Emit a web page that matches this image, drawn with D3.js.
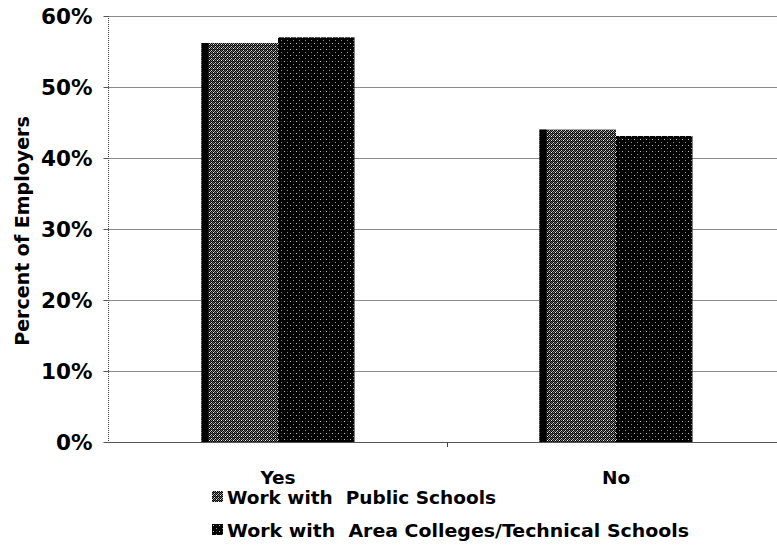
<!DOCTYPE html>
<html><head><meta charset="utf-8">
<script src="https://cdn.jsdelivr.net/npm/d3@7"></script>
<style>
body{margin:0;background:#fff;}
svg{display:block;}
text{font-family:"DejaVu Sans",Verdana,sans-serif;font-weight:bold;fill:#000;}
</style></head>
<body>
<svg id="chart" width="777" height="558"></svg>
<script>
const categories = ["Yes", "No"];
const seriesNames = ["Work with  Public Schools", "Work with  Area Colleges/Technical Schools"];
const publicSchools = [0.562, 0.440];
const colleges = [0.570, 0.431];
const yTicks = [0, 0.1, 0.2, 0.3, 0.4, 0.5, 0.6];

const svg = d3.select("#chart");
const defs = svg.append("defs");

// stipple patterns
const p1 = defs.append("pattern").attr("id","patPublic").attr("patternUnits","userSpaceOnUse").attr("width",4).attr("height",4);
p1.append("rect").attr("width",4).attr("height",4).attr("fill","#000");
[[0,0,"#f4f4f4"],[2,2,"#d8d8d8"],[2,0,"#888"],[0,2,"#666"],[1,3,"#aaa"],[3,1,"#555"],[1,1,"#444"],[3,3,"#777"]].forEach(([px,py,c]) =>
  p1.append("rect").attr("x",px).attr("y",py).attr("width",1).attr("height",1).attr("fill",c));
const p2 = defs.append("pattern").attr("id","patCollege").attr("patternUnits","userSpaceOnUse").attr("width",6).attr("height",6);
p2.append("rect").attr("width",6).attr("height",6).attr("fill","#000");
[[1,1,"#c0c0c0"],[4,4,"#909090"],[4,1,"#333"]].forEach(([px,py,c]) =>
  p2.append("rect").attr("x",px).attr("y",py).attr("width",1).attr("height",1).attr("fill",c));

const fills = ["url(#patPublic)", "url(#patCollege)"];

const x0 = 108, yTop = 16, yBot = 442, xRight = 785;
const y = d3.scaleLinear().domain([0, 0.6]).range([yBot, yTop]);
const x = d3.scaleBand().domain(categories).range([x0 + 1, xRight]).paddingInner(0).paddingOuter(0);
const bw = x.bandwidth();
const xs = d3.scaleBand().domain(seriesNames).range([bw/2 - 76.5, bw/2 + 76.5]).padding(0);

// gridlines
svg.append("g").selectAll("line").data(yTicks.slice(1)).join("line")
  .attr("x1", x0).attr("x2", 777).attr("y1", d => Math.round(y(d)) + 0.5).attr("y2", d => Math.round(y(d)) + 0.5)
  .attr("stroke", "#8a8a8a").attr("stroke-width", 1);

// y axis
const yAxis = d3.axisLeft(y).tickValues(yTicks).tickFormat(d3.format(".0%")).tickSize(5).tickPadding(11);
const gy = svg.append("g").attr("transform", `translate(${x0 + 0.5},0)`).call(yAxis);
gy.select(".domain").attr("stroke", "#444").attr("stroke-dasharray", "1,1").attr("d", `M0,${yTop}V${yBot}`);
gy.selectAll(".tick line").attr("stroke", "#555");
gy.selectAll(".tick text").style("font-size", "21.5px").attr("dy", "0.36em");

// bars
const data = categories.map((c, i) => ({cat: c, vals: [publicSchools[i], colleges[i]]}));
const groups = svg.append("g").selectAll("g").data(data).join("g")
  .attr("transform", d => `translate(${x(d.cat)},0)`);
groups.selectAll("rect.bar").data(d => d.vals.map((v, j) => ({v, s: seriesNames[j], j}))).join("rect")
  .attr("class", "bar")
  .attr("x", d => xs(d.s)).attr("width", xs.bandwidth())
  .attr("y", d => y(d.v)).attr("height", d => yBot - y(d.v))
  .attr("fill", d => fills[d.j]);
// dark left edge of first bar
groups.append("rect")
  .attr("x", xs(seriesNames[0])).attr("width", 7)
  .attr("y", d => y(d.vals[0])).attr("height", d => yBot - y(d.vals[0]))
  .attr("fill", "#000");

// x axis
const xAxis = d3.axisBottom(x).tickSize(0).tickPadding(28);
const gx = svg.append("g").attr("transform", `translate(0,${yBot + 0.5})`).call(xAxis);
gx.select(".domain").attr("stroke", "#555").attr("d", `M${x0},0H777`);
gx.selectAll(".tick text").style("font-size", "18.5px");
// divider tick between categories
svg.append("line").attr("x1", x("No") + 0.5).attr("x2", x("No") + 0.5)
  .attr("y1", yBot).attr("y2", yBot + 5).attr("stroke", "#444");

// y title
svg.append("text").attr("transform", "translate(29,231) rotate(-90)")
  .attr("text-anchor", "middle").style("font-size", "19px").text("Percent of Employers");

// legend
const legendLen = [269, 462];
const lg = svg.append("g").selectAll("g").data(seriesNames).join("g")
  .attr("transform", (d, i) => `translate(212,${491 + i * 33})`);
lg.append("rect").attr("width", 11).attr("height", 11).attr("fill", (d, i) => fills[i]);
lg.append("text").attr("x", 15).attr("y", 6).attr("dy", "0.36em")
  .attr("textLength", (d, i) => legendLen[i]).attr("lengthAdjust", "spacingAndGlyphs")
  .style("font-size", "18.5px").style("white-space", "pre").text(d => d);
</script>
</body></html>
